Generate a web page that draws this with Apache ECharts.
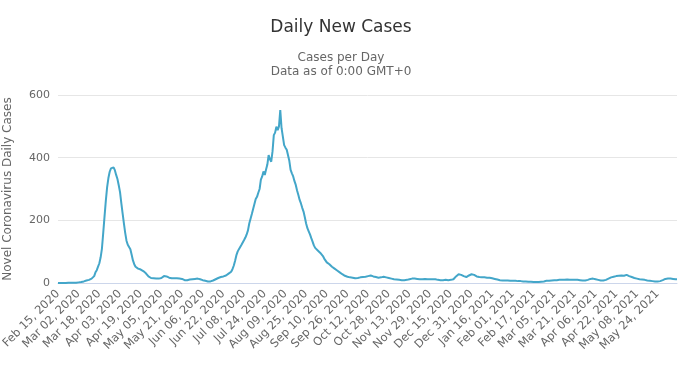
<!DOCTYPE html>
<html>
<head>
<meta charset="utf-8">
<script src="https://cdn.jsdelivr.net/npm/echarts@6/dist/echarts.min.js"></script>
<style>
html,body{margin:0;padding:0;background:#fff;}
#chart{width:695px;height:371px;}
</style>
</head>
<body>
<div id="chart"></div>
<script>
const titleText = "Daily New Cases";
const subtitleText = "Cases per Day\nData as of 0:00 GMT+0";
const yAxisName = "Novel Coronavirus Daily Cases";
const startDate = "2020-02-15";
const yTicks = [0, 200, 400, 600];
const monthNames = ["Jan","Feb","Mar","Apr","May","Jun","Jul","Aug","Sep","Oct","Nov","Dec"];

// daily new cases, 16 days per row, starting Feb 15, 2020
const dailyCases = [
  0,0,0,0,0,0,0,0,1,1,1,1,1,1,1,2,
  2,3,3,4,5,6,8,9,10,12,14,17,22,34,41,52,
  63,82,110,160,212,262,305,335,355,366,368,369,360,345,332,312,
  290,255,222,190,160,135,122,115,108,90,72,60,52,48,46,44,
  43,42,38,34,31,26,21,18,16,15,15,14,14,15,14,13,
  16,19,22,22,21,19,17,16,15,15,15,16,15,14,14,14,
  13,11,9,8,9,10,11,12,12,13,13,14,14,13,12,11,
  9,8,7,6,5,5,5,6,8,10,12,14,16,18,19,20,
  21,22,24,27,30,32,36,44,55,70,88,100,108,114,122,128,
  137,145,155,168,190,205,220,236,252,268,275,288,300,330,340,356,
  345,362,378,408,395,387,420,472,480,499,488,500,552,494,488,440,
  432,425,419,390,361,350,340,325,313,295,281,265,254,240,228,210,
  190,175,165,155,143,132,120,112,107,104,100,96,92,86,78,72,
  66,62,60,56,52,49,46,43,40,37,34,31,28,25,23,22,
  20,19,18,17,17,16,15,15,16,17,18,18,19,19,20,21,
  22,23,24,23,21,20,19,18,17,17,18,19,20,19,18,17,
  16,15,14,13,12,12,11,10,10,9,9,9,9,10,10,11,
  12,13,14,14,14,14,13,13,12,12,12,12,13,12,12,12,
  12,12,12,13,12,11,10,10,9,9,9,10,10,10,9,10,
  10,11,12,16,21,25,28,28,26,24,22,20,19,21,24,27,
  28,28,26,23,21,20,19,19,18,18,18,18,17,17,17,16,
  15,14,13,12,11,10,9,9,8,8,8,8,8,7,7,7,
  7,7,7,6,6,6,6,5,5,5,5,5,4,4,4,3,
  3,3,3,3,3,3,4,4,5,6,7,7,7,8,8,8,
  9,9,9,9,10,10,10,10,10,11,11,10,10,10,10,10,
  10,10,10,9,9,8,8,8,8,9,10,12,13,14,14,13,
  12,11,10,9,8,8,8,9,10,12,14,16,18,19,20,21,
  22,22,23,24,24,23,23,25,26,24,22,21,19,17,16,15,
  14,13,12,12,11,10,10,9,8,8,7,7,6,6,5,5,
  5,5,6,7,9,11,13,13,14,14,14,13,13,12,12,12
];

const dates = [];
{
  const d0 = new Date(startDate + "T00:00:00Z");
  for (let i = 0; i < dailyCases.length; i++) {
    const d = new Date(d0.getTime() + i * 86400000);
    const dd = String(d.getUTCDate()).padStart(2, "0");
    dates.push(monthNames[d.getUTCMonth()] + " " + dd + ", " + d.getUTCFullYear());
  }
}

const FONT = "DejaVu Sans";
const chart = echarts.init(document.getElementById("chart"));
chart.setOption({
  animation: false,
  backgroundColor: "#ffffff",
  title: {
    text: titleText,
    subtext: subtitleText,
    left: 336,
    textAlign: "center",
    top: 14,
    itemGap: 15,
    textStyle: { fontFamily: FONT, fontSize: 17, fontWeight: "normal", color: "#333333" },
    subtextStyle: { fontFamily: FONT, fontSize: 12, color: "#666666", lineHeight: 14, align: "center" }
  },
  grid: { left: 58, right: 18, top: 95, bottom: 88, containLabel: false, outerBoundsMode: "none" },
  xAxis: {
    type: "category",
    data: dates,
    boundaryGap: false,
    axisLine: { lineStyle: { color: "#ccd6eb" } },
    axisTick: { show: false },
    axisLabel: {
      interval: 15,
      rotate: 45,
      fontFamily: FONT,
      fontSize: 11.5,
      color: "#666666",
      margin: 9
    }
  },
  yAxis: {
    type: "value",
    min: yTicks[0],
    max: yTicks[yTicks.length - 1],
    interval: 200,
    name: yAxisName,
    nameLocation: "middle",
    nameGap: 44,
    nameTextStyle: { fontFamily: FONT, fontSize: 12, color: "#666666" },
    axisLine: { show: false },
    axisTick: { show: false },
    axisLabel: { fontFamily: FONT, fontSize: 11, color: "#666666", margin: 8 },
    splitLine: { lineStyle: { color: "#e6e6e6" } }
  },
  series: [{
    type: "line",
    data: dailyCases,
    showSymbol: false,
    lineStyle: { color: "#43a6c9", width: 2 },
    itemStyle: { color: "#43a6c9" }
  }]
});
</script>
</body>
</html>
